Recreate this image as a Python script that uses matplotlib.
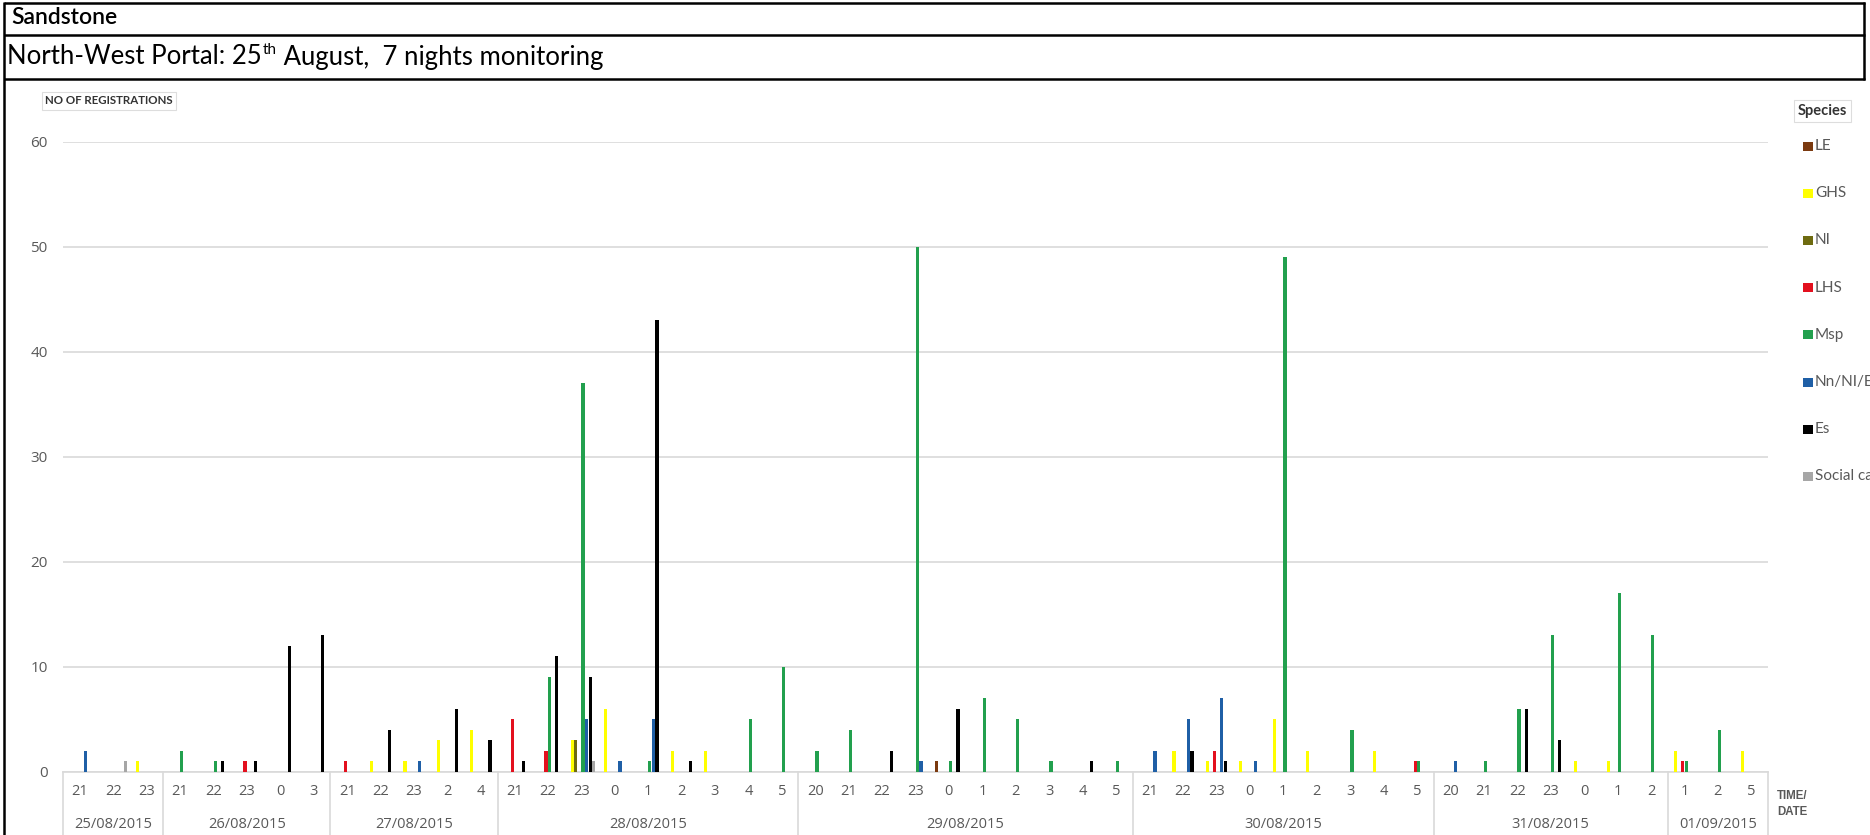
import numpy as np
import matplotlib
matplotlib.use("Agg")
import matplotlib.pyplot as plt
from matplotlib.transforms import blended_transform_factory
from matplotlib.patches import Rectangle
from matplotlib.lines import Line2D

plt.rcParams['font.family'] = ['Lato', 'DejaVu Sans']

# ---- data -------------------------------------------------------------
dates = ["25/08/2015", "26/08/2015", "27/08/2015", "28/08/2015",
         "29/08/2015", "30/08/2015", "31/08/2015", "01/09/2015"]
hours = [
    [21, 22, 23],
    [21, 22, 23, 0, 3],
    [21, 22, 23, 2, 4],
    [21, 22, 23, 0, 1, 2, 3, 4, 5],
    [20, 21, 22, 23, 0, 1, 2, 3, 4, 5],
    [21, 22, 23, 0, 1, 2, 3, 4, 5],
    [20, 21, 22, 23, 0, 1, 2],
    [1, 2, 5],
]
species = ["LE", "GHS", "NI", "LHS", "Msp", "Nn/NI/E", "Es", "Social calls"]
colors = ["#7B3A10", "#FFFF00", "#6E6B10", "#E3101E",
          "#22A04E", "#1F5FA6", "#000000", "#A6A6A6"]

# registrations per hourly slot, grouped by night
le = [0, 0, 0,  0, 0, 0, 0, 0,  0, 0, 0, 0, 0,  0, 0, 0, 0, 0, 0, 0, 0, 0,
      0, 0, 0, 0, 1, 0, 0, 0, 0, 0,  0, 0, 0, 0, 0, 0, 0, 0, 0,
      0, 0, 0, 0, 0, 0, 0,  0, 0, 0]
ghs = [0, 0, 1,  0, 0, 0, 0, 0,  0, 1, 1, 3, 4,  0, 0, 3, 6, 0, 2, 2, 0, 0,
       0, 0, 0, 0, 0, 0, 0, 0, 0, 0,  0, 2, 1, 1, 5, 2, 0, 2, 0,
       0, 0, 0, 0, 1, 1, 0,  2, 0, 2]
ni = [0, 0, 0,  0, 0, 0, 0, 0,  0, 0, 0, 0, 0,  0, 0, 3, 0, 0, 0, 0, 0, 0,
      0, 0, 0, 0, 0, 0, 0, 0, 0, 0,  0, 0, 0, 0, 0, 0, 0, 0, 0,
      0, 0, 0, 0, 0, 0, 0,  0, 0, 0]
lhs = [0, 0, 0,  0, 0, 1, 0, 0,  1, 0, 0, 0, 0,  5, 2, 0, 0, 0, 0, 0, 0, 0,
       0, 0, 0, 0, 0, 0, 0, 0, 0, 0,  0, 0, 2, 0, 0, 0, 0, 0, 1,
       0, 0, 0, 0, 0, 0, 0,  1, 0, 0]
msp = [0, 0, 0,  2, 1, 0, 0, 0,  0, 0, 0, 0, 0,  0, 9, 37, 0, 1, 0, 0, 5, 10,
       2, 4, 0, 50, 1, 7, 5, 1, 0, 1,  0, 0, 0, 0, 49, 0, 4, 0, 1,
       0, 1, 6, 13, 0, 17, 13,  1, 4, 0]
nn = [2, 0, 0,  0, 0, 0, 0, 0,  0, 0, 1, 0, 0,  0, 0, 5, 1, 5, 0, 0, 0, 0,
      0, 0, 0, 1, 0, 0, 0, 0, 0, 0,  2, 5, 7, 1, 0, 0, 0, 0, 0,
      1, 0, 0, 0, 0, 0, 0,  0, 0, 0]
es = [0, 0, 0,  0, 1, 1, 12, 13,  0, 4, 0, 6, 3,  1, 11, 9, 0, 43, 1, 0, 0, 0,
      0, 0, 2, 0, 6, 0, 0, 0, 1, 0,  0, 2, 1, 0, 0, 0, 0, 0, 0,
      0, 0, 6, 3, 0, 0, 0,  0, 0, 0]
social = [0, 1, 0,  0, 0, 0, 0, 0,  0, 0, 0, 0, 0,  0, 0, 1, 0, 0, 0, 0, 0, 0,
          0, 0, 0, 0, 0, 0, 0, 0, 0, 0,  0, 0, 0, 0, 0, 0, 0, 0, 0,
          0, 0, 0, 0, 0, 0, 0,  0, 0, 0]
series = [le, ghs, ni, lhs, msp, nn, es, social]

# ---- figure -----------------------------------------------------------
W, H = 1870, 835


def fx(x):
    return x / W


def fy(y):
    return 1 - y / H


fig = plt.figure(figsize=(W / 100, H / 100), dpi=100)
fig.patch.set_facecolor("white")

# outer table frame
border = dict(color="black", linewidth=1.8, solid_capstyle="butt")
fig.add_artist(Line2D([fx(4), fx(1865)], [fy(2.5), fy(2.5)], **border))
fig.add_artist(Line2D([fx(4), fx(1865)], [fy(35), fy(35)], **border))
fig.add_artist(Line2D([fx(4), fx(1865)], [fy(79), fy(79)], **border))
fig.add_artist(Line2D([fx(4), fx(4)], [fy(1.5), fy(835)], **border))
fig.add_artist(Line2D([fx(1864), fx(1864)], [fy(1.5), fy(80)], **border))

fig.text(fx(11), fy(17), "Sandstone", fontsize=16.5, fontweight="semibold",
         va="center", ha="left", color="black")
sub1 = fig.text(fx(7), fy(57), "North-West Portal: 25", fontsize=18.5,
                va="center", ha="left", color="black")
fig.canvas.draw()
r = fig.canvas.get_renderer()
bb = sub1.get_window_extent(r)
sup = fig.text(bb.x1 / W + 0.0005, fy(50), "th", fontsize=11, va="center",
               ha="left", color="black")
bb2 = sup.get_window_extent(r)
fig.text(bb2.x1 / W, fy(57), " August,  7 nights monitoring", fontsize=18.5,
         va="center", ha="left", color="black")

# ---- bars ---------------------------------------------------------------
ax = fig.add_axes([fx(63), fy(771.7), fx(1768) - fx(63), (771.7 - 141.7) / H])
slot_labels = [str(h) for night in hours for h in night]
n = len(slot_labels)
x = np.arange(n)
step = 0.108
for k, (vals, col, name) in enumerate(zip(series, colors, species)):
    ax.bar(x + (k - 3.5) * step, vals, width=0.095, color=col, linewidth=0,
           label=name, zorder=3)

ax.set_xlim(-0.5, n - 0.5)
ax.set_ylim(0, 60)
ax.set_yticks(range(0, 61, 10))
ax.yaxis.grid(True, color="#D9D9D9", linewidth=1.2)
ax.set_axisbelow(True)
for side in ("top", "right", "left"):
    ax.spines[side].set_visible(False)
ax.spines["bottom"].set_color("#D9D9D9")
ax.spines["bottom"].set_linewidth(1.2)
ax.tick_params(axis="y", length=0, pad=11, labelsize=11,
               labelcolor="#595959")
ax.set_xticks(x)
ax.set_xticklabels(slot_labels)
ax.tick_params(axis="x", length=0, pad=9, labelsize=10.5,
               labelcolor="#595959")
for lab in ax.get_yticklabels() + ax.get_xticklabels():
    lab.set_fontfamily(["Open Sans", "DejaVu Sans"])

# night groups under the hour labels
tr = blended_transform_factory(ax.transData, fig.transFigure)
start = 0
bounds = [-0.5]
for d, night in zip(dates, hours):
    end = start + len(night)
    ax.text((start + end - 1) / 2, fy(824), d, transform=tr, ha="center",
            va="center", fontsize=10.5, color="#595959",
            family=["Open Sans", "DejaVu Sans"])
    bounds.append(end - 0.5)
    start = end
for b in bounds:
    fig.add_artist(Line2D([b, b], [fy(771.7), 0], transform=tr,
                          color="#D9D9D9", linewidth=1.2))

# axis captions
fig.text(fx(45), fy(101), "NO OF REGISTRATIONS", fontsize=8.3,
         fontweight="bold", color="#333333", va="center", ha="left",
         bbox=dict(boxstyle="square,pad=0.3", fc="white", ec="#DDDDDD",
                   lw=0.8))
fig.text(fx(1777), fy(796), "TIME/", fontsize=8.3, fontweight="bold",
         color="#595959", va="center", ha="left", family="Liberation Sans")
fig.text(fx(1777), fy(812), "DATE", fontsize=8.3, fontweight="bold",
         color="#595959", va="center", ha="left", family="Liberation Sans")

# legend
fig.text(fx(1798), fy(111), "Species", fontsize=10.5, fontweight="bold",
         color="#333333", va="center", ha="left",
         bbox=dict(boxstyle="square,pad=0.25", fc="white", ec="#DDDDDD",
                   lw=0.8))
for i, (name, col) in enumerate(zip(species, colors)):
    yc = 146 + i * 47.2
    fig.add_artist(Rectangle((fx(1803), fy(yc + 4.5)), fx(9.5), 9 / H,
                             facecolor=col, edgecolor="none"))
    fig.text(fx(1815), fy(yc), name, fontsize=11, color="#595959",
             va="center", ha="left")

fig.savefig("out.png", dpi=100)
